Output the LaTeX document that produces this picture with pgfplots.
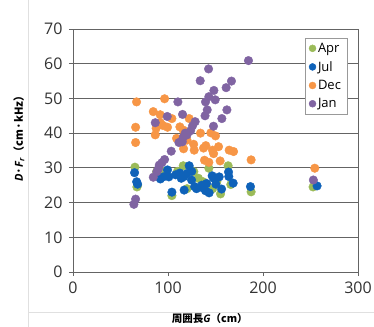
\documentclass[border=0pt]{standalone}
\usepackage{pgfplots}
\pgfplotsset{compat=1.18}
\usepackage{fontspec}
\setmainfont{Open Sans}
\newfontfamily\cjk{Noto Sans CJK JP}
\definecolor{apr}{RGB}{155,187,89}
\definecolor{jul}{RGB}{15,98,185}
\definecolor{dec}{RGB}{247,150,70}
\definecolor{jan}{RGB}{128,100,162}
\definecolor{gridc}{RGB}{100,100,100}
\begin{document}
\begin{tikzpicture}
\begin{axis}[
  at={(0,0)}, anchor=south west,
  scale only axis, width=285bp, height=243bp,
  xmin=0, xmax=300, ymin=0, ymax=70,
  xtick={0,100,200,300}, ytick={0,10,...,70},
  tick align=outside, major tick length=4bp,
  tick pos=left,
  ymajorgrids,
  major grid style={gridc, line width=0.9bp},
  axis line style={gridc, line width=0.9bp},
  every tick/.style={gridc, line width=0.9bp},
  tick label style={font=\fontsize{16bp}{18bp}\selectfont, text=black!80},
  /pgf/number format/assume math mode=true,
  xticklabel style={yshift=-2bp},
  yticklabel style={xshift=-3bp},
  xlabel={{\cjk\bfseries 周囲長}\textbf{\textit{G}}{\cjk\bfseries （cm）}},
  xlabel style={font=\fontsize{10.5bp}{12bp}\selectfont, at={(axis description cs:0.48,-0.193)}, anchor=center},
  ylabel={\textbf{\textit{D}}{\cjk\bfseries ·}\textbf{\textit{F}\textsubscript{\textit{r}}}{\cjk\bfseries （cm·kHz）}},
  ylabel style={font=\fontsize{11bp}{13bp}\selectfont, at={(axis description cs:-0.19,0.56)}, anchor=center},
  legend style={at={(0.962,0.964)}, anchor=north east, draw=black!40, fill=white,
    font=\fontsize{13bp}{15bp}\selectfont, row sep=3.5bp, inner ysep=3bp, inner xsep=4bp,
    /tikz/every even column/.style={column sep=1bp}},
  legend cell align=left,
  legend image code/.code={\draw[#1, mark size=3.5bp] plot coordinates {(0.25cm,0cm)};},
  every axis plot/.append style={only marks, mark=*},
]
\addplot[mark size=4.3bp, mark options={fill=apr, draw=apr}] coordinates {
(65.2,30.2)(67.3,24.5)(104.1,22.0)(116,30.6)(127.2,28.9)(143,29.9)(155.3,22.5)
(163.3,30.6)(166.1,25.2)(187.5,23.1)(252.7,24.5)(88,28.9)(151.4,26)(132,27)
(68,25)(120,24)(110,29)(137,26)(147,24)(96,29)
};
\addlegendentry{Apr}
\addplot[mark size=4.3bp, mark options={fill=jul, draw=jul}] coordinates {
(64.8,28.6)(67,26)(68,25.3)(88.7,27.6)(95,27.4)(99.5,29.4)(100.9,27.4)(104.1,23.0)
(112.5,28.5)(113.9,27)(117,23.6)(122.3,30.6)(120.2,28.4)(124.8,26.5)(128,24.6)
(135.6,25)(139.5,23.4)(143.3,22.8)(146.5,27.7)(150.4,25.3)(153.9,27.4)(156.4,23.9)
(163.7,28.8)(168.6,25.6)(186.8,24.6)(256.9,24.8)(140.6,25.5)(130,24)(117,27.5)
(108,28)(92,26.8)(164,27.5)(148,27)(125,29)(137,24.2)
};
\addlegendentry{Jul}
\addplot[mark size=4.3bp, mark options={fill=dec, draw=dec}] coordinates {
(66.9,49.0)(96.4,49.9)(84.5,46.2)(91.8,45.3)(65.9,41.7)(65.9,37.3)(86.6,39.5)
(87.5,41.4)(94.8,42.2)(99.5,41.7)(104.1,44.2)(112.5,41.8)(116,40.9)(122.3,44.2)
(116.4,35.5)(127,36.8)(127.6,35.1)(134.2,40.0)(137.4,35.7)(139.8,36.4)(138.4,32.2)
(143,31.6)(145.1,40.1)(150,39.2)(148,34.1)(146.8,35.1)(153.2,36.1)(154.9,32)
(164.4,35.1)(169,34.7)(187.5,32.3)(254.5,29.9)(109,38.5)(92,43)(120,38)
};
\addlegendentry{Dec}
\addplot[mark size=4.3bp, mark options={fill=jan, draw=jan}] coordinates {
(184.7,60.9)(142.7,58.5)(133.9,55.1)(166.8,55.0)(161.2,53.1)(148.3,52.3)(149.7,49.6)
(139.5,49.0)(143,50.5)(110.4,49.0)(162,46.7)(141.3,46.7)(139,45)(99.2,44.8)(115.3,45.4)
(156.7,44.2)(86.6,43.0)(147.9,42.0)(128.6,43.3)(125.8,42.1)(123.8,40.7)(118.1,40.0)
(116,38.8)(111.5,37.3)(115,37.5)(103.4,34.8)(96.4,32.4)(93.6,31.5)(90.8,30.8)
(90,29.8)(88.3,28.9)(84.5,27.3)(65.9,21.0)(64.1,19.5)(253,26.5)(120,39.5)
};
\addlegendentry{Jan}
\end{axis}
\draw[black!12, line width=0.8bp] (-45bp,-55bp) -- (-45bp,272bp);
\draw[black!12, line width=0.8bp] (-45bp,-40bp) -- (301bp,-40bp);
\pgfresetboundingbox
\path[use as bounding box] (-73bp,-55bp) rectangle (301bp,272bp);
\end{tikzpicture}
\end{document}
